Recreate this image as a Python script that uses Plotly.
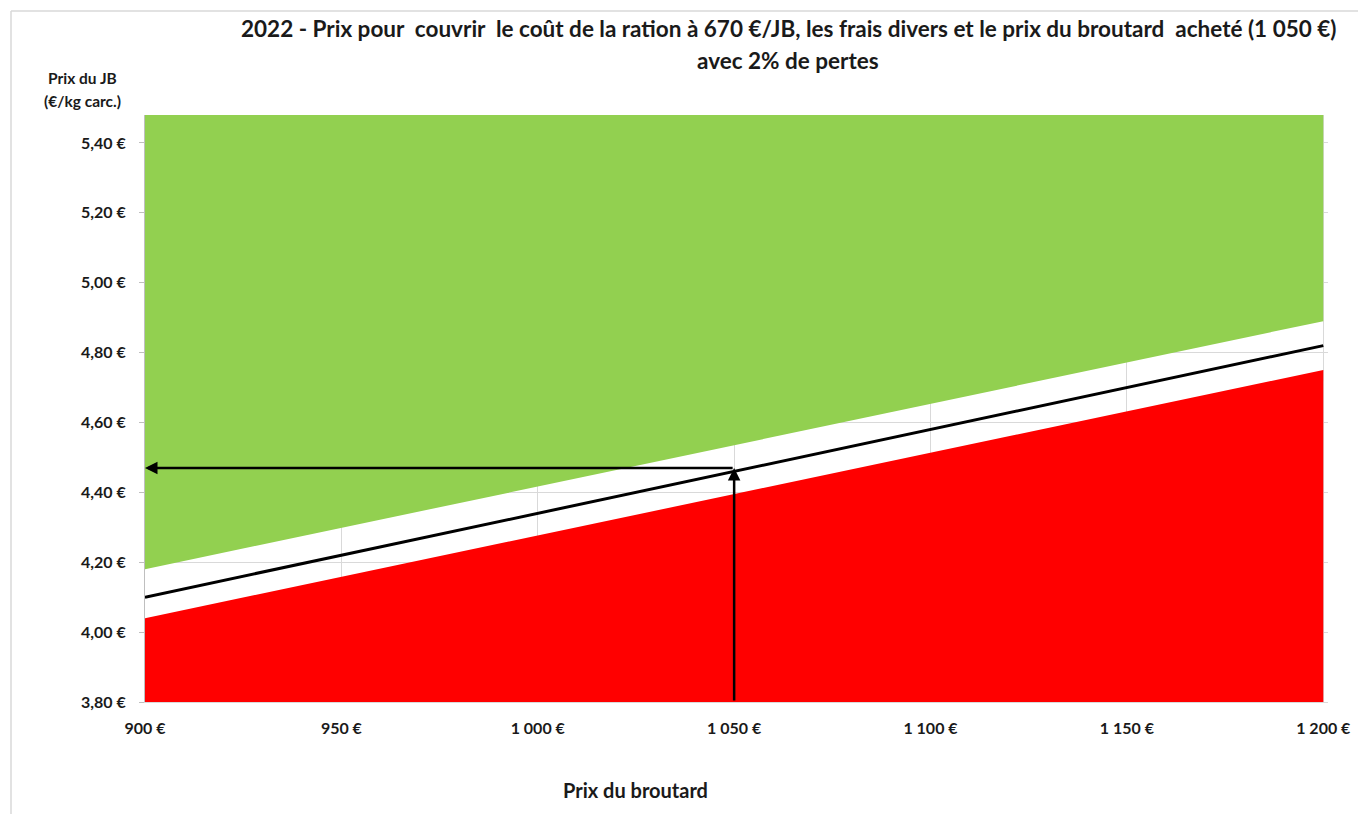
import plotly.graph_objects as go

# Data
prix_broutard = [900, 1200]             # € (x)
prix_equilibre = [4.10, 4.82]           # €/kg carc. black line
seuil_bas = [4.04, 4.75]                # top of red area
seuil_haut = [4.18, 4.89]               # bottom of green area
y_min, y_max = 3.80, 5.48
broutard_achete = 1050
prix_jb_lu = 4.47

x_ticks = [900, 950, 1000, 1050, 1100, 1150, 1200]
x_ticktext = ["900 €", "950 €", "1 000 €", "1 050 €", "1 100 €", "1 150 €", "1 200 €"]
y_ticks = [3.8, 4.0, 4.2, 4.4, 4.6, 4.8, 5.0, 5.2, 5.4]
y_ticktext = ["3,80 €", "4,00 €", "4,20 €", "4,40 €", "4,60 €", "4,80 €", "5,00 €", "5,20 €", "5,40 €"]

FONT = "Lato"
TXT = "#1a1a1a"
W, H = 1358, 814
L, R, T, B = 145, 30, 115, 112
pw, ph = W - L - R, H - T - B


def px(xp):
    return (xp - L) / pw


def py(yp):
    return (H - B - yp) / ph


fig = go.Figure()

# red area
fig.add_trace(go.Scatter(x=prix_broutard, y=[y_min] * len(prix_broutard), mode="lines",
                         line=dict(width=0, color="#FF0000"), showlegend=False, hoverinfo="skip"))
fig.add_trace(go.Scatter(x=prix_broutard, y=seuil_bas, mode="lines", fill="tonexty",
                         fillcolor="#FF0000", line=dict(width=0, color="#FF0000"),
                         showlegend=False))
# green area
fig.add_trace(go.Scatter(x=prix_broutard, y=seuil_haut, mode="lines",
                         line=dict(width=0, color="#92D050"), showlegend=False))
fig.add_trace(go.Scatter(x=prix_broutard, y=[y_max] * len(prix_broutard), mode="lines",
                         fill="tonexty", fillcolor="#92D050",
                         line=dict(width=0, color="#92D050"), showlegend=False, hoverinfo="skip"))
# break-even line
fig.add_trace(go.Scatter(x=prix_broutard, y=prix_equilibre, mode="lines",
                         line=dict(width=3, color="#000000"), showlegend=False))

# arrows
fig.add_annotation(x=prix_broutard[0], y=prix_jb_lu, ax=broutard_achete, ay=prix_jb_lu,
                   xref="x", yref="y", axref="x", ayref="y", text="", showarrow=True,
                   arrowhead=2, arrowsize=1, arrowwidth=2.5, arrowcolor="#000000", standoff=0)
fig.add_annotation(x=broutard_achete, y=prix_jb_lu, ax=broutard_achete, ay=y_min,
                   xref="x", yref="y", axref="x", ayref="y", text="", showarrow=True,
                   arrowhead=2, arrowsize=1, arrowwidth=2.5, arrowcolor="#000000", standoff=0)

# titles
def label(text, xp, yp, size):
    fig.add_annotation(xref="paper", yref="paper", x=px(xp), y=py(yp), text=text,
                       showarrow=False, xanchor="center", yanchor="middle",
                       font=dict(family=FONT, size=size, color=TXT))


NB = "&nbsp;"
label("<b>2022 - Prix pour " + NB + "couvrir " + NB + "le coût de la ration à 670 €/JB, les frais divers et le prix du broutard "
      + NB + "acheté (1 050 €)</b>", 788, 28, 22.5)
label("<b>avec 2% de pertes</b>", 788, 60, 22.5)
label("<b>Prix du JB</b>", 82, 78, 15.5)
label("<b>(€/kg carc.)</b>", 82, 101, 15.5)
label("<b>Prix du broutard</b>", 635, 790, 20)

# chart border
bx = px(11)
by = py(11)
fig.add_shape(type="line", xref="paper", yref="paper", x0=bx, x1=1.2, y0=by, y1=by,
              line=dict(color="#D9D9D9", width=1.5))
fig.add_shape(type="line", xref="paper", yref="paper", x0=bx, x1=bx, y0=-0.5, y1=by,
              line=dict(color="#D9D9D9", width=1.5))

fig.update_layout(
    width=W, height=H,
    margin=dict(l=L, r=R, t=T, b=B, autoexpand=False),
    paper_bgcolor="white", plot_bgcolor="white",
    font=dict(family=FONT, color=TXT),
)
fig.update_xaxes(range=[900, 1201.2], tickvals=x_ticks,
                 ticktext=["<b>" + t + "</b>" for t in x_ticktext],
                 tickfont=dict(family=FONT, size=16, color=TXT),
                 showgrid=True, gridcolor="#D9D9D9", gridwidth=1,
                 showline=True, linecolor="#D9D9D9", mirror=False, zeroline=False,
                 ticks="", ticklabelstandoff=12, automargin=False)
fig.update_yaxes(range=[y_min, y_max], tickvals=y_ticks,
                 ticktext=["<b>" + t + "</b>" for t in y_ticktext],
                 tickfont=dict(family=FONT, size=16, color=TXT),
                 showgrid=True, gridcolor="#D9D9D9", gridwidth=1,
                 showline=True, linecolor="#BFBFBF", zeroline=False,
                 ticks="outside", ticklen=5, tickcolor="#BFBFBF", ticklabelstandoff=10,
                 automargin=False)

fig.write_html("out.html")
